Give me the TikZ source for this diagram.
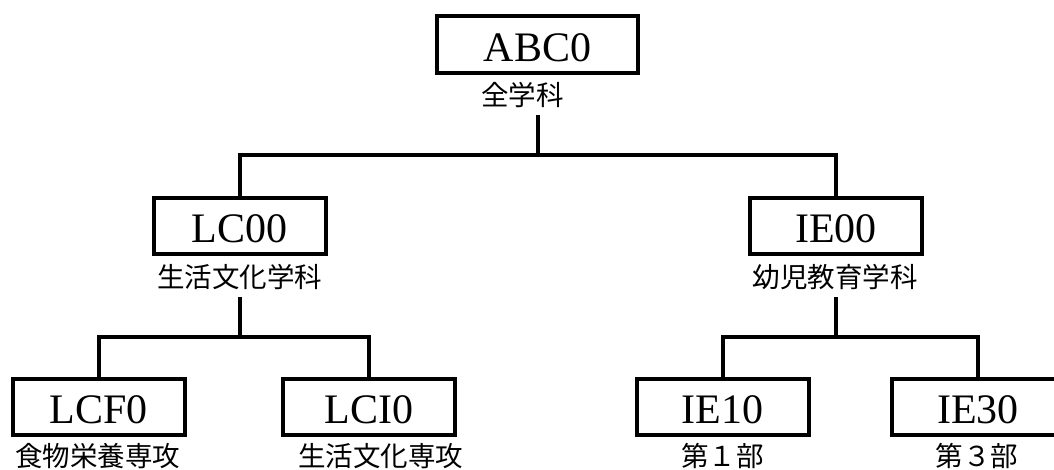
\documentclass[tikz,border=0pt]{standalone}
\usepackage{fontspec}
\setmainfont{Liberation Serif}
\newfontfamily\jpfont{Noto Sans CJK JP}
\begin{document}
\begin{tikzpicture}[x=1pt,y=-1pt,
  box/.style={draw, line width=4pt, minimum width=172pt, minimum height=56pt, inner sep=0pt,
    font=\fontsize{42}{42}\selectfont, text height=33pt, text depth=0pt},
  lab/.style={font=\jpfont\fontsize{27.5}{27.5}\selectfont, inner xsep=0pt, inner ysep=6pt,
    text height=24pt, text depth=3.3pt, anchor=base},
  leaflab/.style={lab, inner ysep=0pt, text depth=0pt},
  conn/.style={line width=4pt}]
\useasboundingbox (0,0) rectangle (1054,469);
\clip (0,0) rectangle (1054,469);
% level 1
\node[box, minimum width=201pt, minimum height=57pt] (abc) at (537.5,44.5) {ABC0};
\node[lab] (abcl) at (522.5,105.5) {全学科};
% level 2
\node[box] (lc) at (239.5,226) {LC00};
\node[lab] (lcl) at (239.5,287.5) {生活文化学科};
\node[box] (ie) at (836,226) {IE00};
\node[lab] (iel) at (835,287.5) {幼児教育学科};
% level 3
\node[box] (lcf) at (98.5,407) {LCF0};
\node[leaflab] (lcfl) at (97.5,466) {食物栄養専攻};
\node[box] (lci) at (369,407) {LCI0};
\node[leaflab] (lcil) at (380.5,466) {生活文化専攻};
\node[box] (ie10) at (722.5,407) {IE10};
\node[leaflab] (ie10l) at (722.5,466) {第１部};
\node[box] (ie30) at (978,407) {IE30};
\node[leaflab] (ie30l) at (977,466) {第３部};
% bars
\coordinate (bar1) at (538,155);
\coordinate (bar2) at (239.5,337);
\coordinate (bar3) at (836,337);
% connectors
\draw[conn] (abc |- abcl.south) -- (abc |- bar1);
\draw[conn] (lc.north) -- (lc.north |- bar1) -- (ie.north |- bar1) -- (ie.north);
\draw[conn] (lc |- lcl.south) -- (lc |- bar2);
\draw[conn] (lcf.north) -- (lcf.north |- bar2) -- (lci.north |- bar2) -- (lci.north);
\draw[conn] (ie |- iel.south) -- (ie |- bar3);
\draw[conn] (ie10.north) -- (ie10.north |- bar3) -- (ie30.north |- bar3) -- (ie30.north);
\end{tikzpicture}
\end{document}
